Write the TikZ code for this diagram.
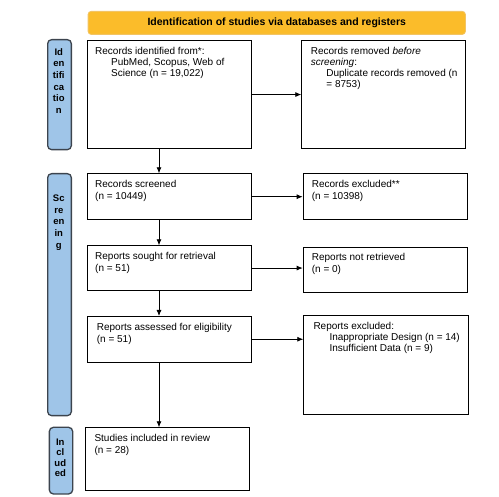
\documentclass[tikz,border=0pt]{standalone}
\usepackage{fontspec}
\setmainfont{Liberation Sans}
\usetikzlibrary{arrows.meta}

\definecolor{headfill}{RGB}{251,188,42}
\definecolor{headline}{RGB}{242,196,100}
\definecolor{sidefill}{RGB}{159,197,232}
\definecolor{sideline}{RGB}{60,68,78}

\begin{document}
\begin{tikzpicture}[x=1pt, y=-1pt,
  box/.style={draw=black, line width=0.8pt, anchor=north west, inner sep=0pt},
  head/.style={draw=headline, fill=headfill, line width=0.8pt, rounded corners=3pt, anchor=north west, font=\fontsize{10.5}{12}\selectfont\bfseries},
  side/.style={draw=sideline, fill=sidefill, line width=1.3pt, rounded corners=4pt, anchor=north west, inner sep=0pt},
  sidetxt/.style={anchor=north, align=center, inner sep=0pt, font=\fontsize{9.5}{11.7}\selectfont\bfseries},
  txt/.style={anchor=north west, align=left, inner sep=0pt, font=\fontsize{10}{11}\selectfont},
  pair/.style={txt, font=\fontsize{10}{12}\selectfont},
  arr/.style={line width=0.8pt, -{Latex[length=6pt, width=5pt]}}]
\useasboundingbox (0,0) rectangle (499,497);
\coordinate (spine) at (159,0);

\node[head, minimum width=377.3, minimum height=23] (head) at (87.7,11) {Identification of studies via databases and registers};

\node[side, minimum width=23.7, minimum height=110] (sid1) at (47,39) {};
\node[side, minimum width=23.7, minimum height=242] (sid2) at (47,173) {};
\node[side, minimum width=23.3, minimum height=66.6] (sid3) at (48.7,426.7) {};
\node[sidetxt] (sid1t) at (58.8,48) {Id\\en\\tifi\\ca\\tio\\n};
\node[sidetxt] (sid2t) at (58.8,194.5) {Sc\\re\\en\\in\\g};
\node[sidetxt, font=\fontsize{9.5}{10.5}\selectfont\bfseries] (sid3t) at (60.3,438.5) {In\\cl\\ud\\ed};

\node[box, minimum width=164, minimum height=107.7] (ident) at (87.3,40.3) {};
\node[box, minimum width=164, minimum height=107.7] (removed) at (301.3,40.3) {};
\node[box, minimum width=164, minimum height=46] (screen) at (87.3,173.3) {};
\node[box, minimum width=164, minimum height=46] (excl) at (302.7,173.3) {};
\node[box, minimum width=164, minimum height=44.7] (sought) at (87.3,245.3) {};
\node[box, minimum width=164, minimum height=45.6] (notret) at (302.7,246.7) {};
\node[box, minimum width=164, minimum height=45.7] (assess) at (87.3,316) {};
\node[box, minimum width=164.4, minimum height=98.7] (repexcl) at (303.3,315.3) {};
\node[box, minimum width=164, minimum height=63] (incl) at (85.3,427.3) {};

\node[txt] (identt) at (95,47.2) {Records identified from*:\\\hspace*{16pt}PubMed, Scopus, Web of\\\hspace*{16pt}Science (n = 19,022)};
\node[txt] (removedt) at (310.7,47.2) {Records removed \textit{before}\\\textit{screening}:\\\hspace*{15.5pt}Duplicate records removed (n\\\hspace*{15.5pt}= 8753)};
\node[pair] (screent) at (95,180) {Records screened\\(n = 10449)};
\node[pair] (exclt) at (311.7,180.2) {Records excluded**\\(n = 10398)};
\node[pair] (soughtt) at (95,252) {Reports sought for retrieval\\(n = 51)};
\node[pair] (notrett) at (311.7,253.2) {Reports not retrieved\\(n = 0)};
\node[pair] (assesst) at (96.7,322.7) {Reports assessed for eligibility\\(n = 51)};
\node[txt] (repexclt) at (313.3,322) {Reports excluded:\\\hspace*{16pt}Inappropriate Design (n = 14)\\\hspace*{16pt}Insufficient Data (n = 9)};
\node[pair] (inclt) at (94.3,434) {Studies included in review\\(n = 28)};

\draw[arr] (ident.east) -- (removed.west);
\draw[arr] (ident.south -| spine) -- (screen.north -| spine);
\draw[arr] (screen.east) -- (screen.east -| excl.west);
\draw[arr] (screen.south -| spine) -- (sought.north -| spine);
\draw[arr] (sought.east) -- (sought.east -| notret.west);
\draw[arr] (sought.south -| spine) -- (assess.north -| spine);
\draw[arr] (assess.east) -- (assess.east -| repexcl.west);
\draw[arr] (assess.south -| spine) -- (incl.north -| spine);
\end{tikzpicture}
\end{document}
